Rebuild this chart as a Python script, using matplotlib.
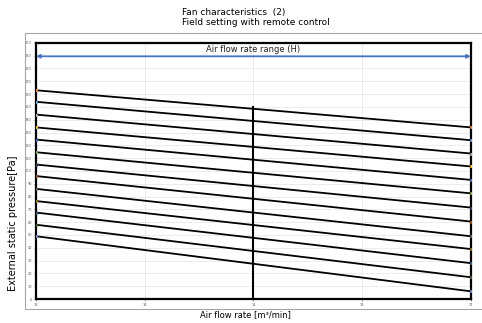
import matplotlib

matplotlib.use("Agg")
import matplotlib.pyplot as plt
from matplotlib.patches import Rectangle

# data
flow = [13, 17]
left_p = [163, 154, 144, 134, 124.5, 114.6, 105, 96, 86, 76.5, 67.5, 58, 49]
right_p = [134, 124, 113.6, 103.5, 93, 82.5, 71.4, 60.5, 49, 39, 28, 17, 6]
range_y = 189.5
split_x = 15
split_top = 150
xticks = [13, 14, 15, 16, 17]
yticks = list(range(0, 201, 10))

END_COLORS = ["#ED7D31", "#5B9BD5", "#A5A5A5", "#FFC000", "#4472C4", "#70AD47",
              "#264478", "#9E480E", "#636363", "#997300", "#255E91", "#43682B", "#698ED0"]

fig = plt.figure(figsize=(4.82, 3.23), dpi=100)
fig.patches.append(Rectangle((0.052, 0.043), 1.0, 0.855, transform=fig.transFigure,
                             fill=False, edgecolor="#a6a6a6", lw=0.8))
ax = fig.add_axes([0.0747, 0.0743, 0.902, 0.793])

for i, (a, b) in enumerate(zip(left_p, right_p)):
    ax.plot(flow, [a, b], color="black", lw=1.3, zorder=3)
    ax.plot(flow, [a, b], ls="none", marker="o", ms=1.2,
            color=END_COLORS[i % len(END_COLORS)], zorder=4)

ax.plot([split_x, split_x], [0, split_top], color="black", lw=1.5, zorder=3)

ax.annotate("", xy=(flow[0], range_y), xytext=(flow[1], range_y),
            arrowprops=dict(arrowstyle="<|-|>", color="#4472C4", lw=1.3,
                            mutation_scale=5, shrinkA=0, shrinkB=0), zorder=5)
ax.text(sum(flow) / 2, range_y + 1.5, "Air flow rate range (H)", ha="center",
        va="bottom", fontsize=6, color="#222222")

ax.set_xlim(flow[0], flow[1])
ax.set_ylim(0, 200)
ax.set_xticks(xticks)
ax.set_yticks(yticks)
ax.tick_params(labelsize=2.5, length=1.5, width=0.4, pad=1.5, colors="#555555")
ax.grid(True, color="#ececec", lw=0.7)
ax.set_axisbelow(True)
for s in ax.spines.values():
    s.set_linewidth(1.6)
    s.set_color("black")

fig.text(0.378, 0.96, "Fan characteristics  (2)", fontsize=6.5, ha="left", va="center")
fig.text(0.378, 0.93, "Field setting with remote control", fontsize=6.5, ha="left", va="center")
fig.text(0.028, 0.31, "External static pressure[Pa]", rotation=90, fontsize=7,
         ha="center", va="center")
fig.text(0.415, 0.025, "Air flow rate [m\u00b3/min]", fontsize=6, ha="left", va="center")

fig.savefig("out.png", dpi=100)
